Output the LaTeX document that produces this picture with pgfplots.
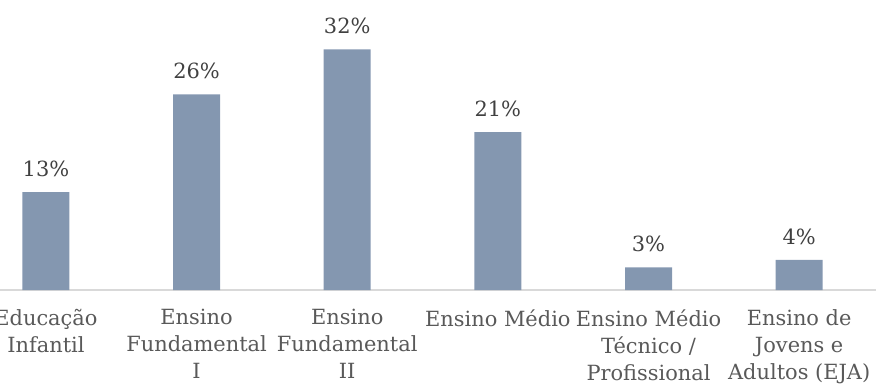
\documentclass[border=0pt]{standalone}
\usepackage{pgfplots}
\pgfplotsset{compat=1.18}
\usepackage{fontspec}
\setmainfont{DejaVu Serif}
\definecolor{barc}{HTML}{8497B0}
\definecolor{linec}{HTML}{D9D9D9}
\definecolor{tickc}{HTML}{595959}
\definecolor{valc}{HTML}{404040}
\begin{document}
\begin{tikzpicture}
\begin{axis}[
  at={(0bp,94bp)}, anchor=south west,
  scale only axis, width=876bp, height=290bp,
  xmin=-0.305, xmax=5.51, ymin=0, ymax=38.56,
  axis y line=none, axis x line*=bottom,
  x axis line style={draw=linec, line width=1.3bp, -},
  xtick=data,
  xticklabels={{Educação\\Infantil},{Ensino\\Fundamental\\I},{Ensino\\Fundamental\\II},{Ensino Médio},{Ensino Médio\\Técnico /\\Profissional},{Ensino de\\Jovens e\\Adultos (EJA)}},
  major tick length=0pt,
  xticklabel style={align=center, font=\fontsize{21}{27}\selectfont, text=tickc, anchor=north, yshift=-16bp},
  ybar, bar width=47bp,
  clip=false,
  /pgf/number format/assume math mode=true,
  nodes near coords={\pgfmathprintnumber{\pgfplotspointmeta}\%},
  nodes near coords style={font=\fontsize{21}{25}\selectfont, text=valc, anchor=south, yshift=12bp},
]
\addplot[fill=barc, draw=none] coordinates {(0,13) (1,26) (2,32) (3,21) (4,3) (5,4)};
\end{axis}
\pgfresetboundingbox
\useasboundingbox (0,0) rectangle (876bp,384bp);
\end{tikzpicture}
\end{document}
